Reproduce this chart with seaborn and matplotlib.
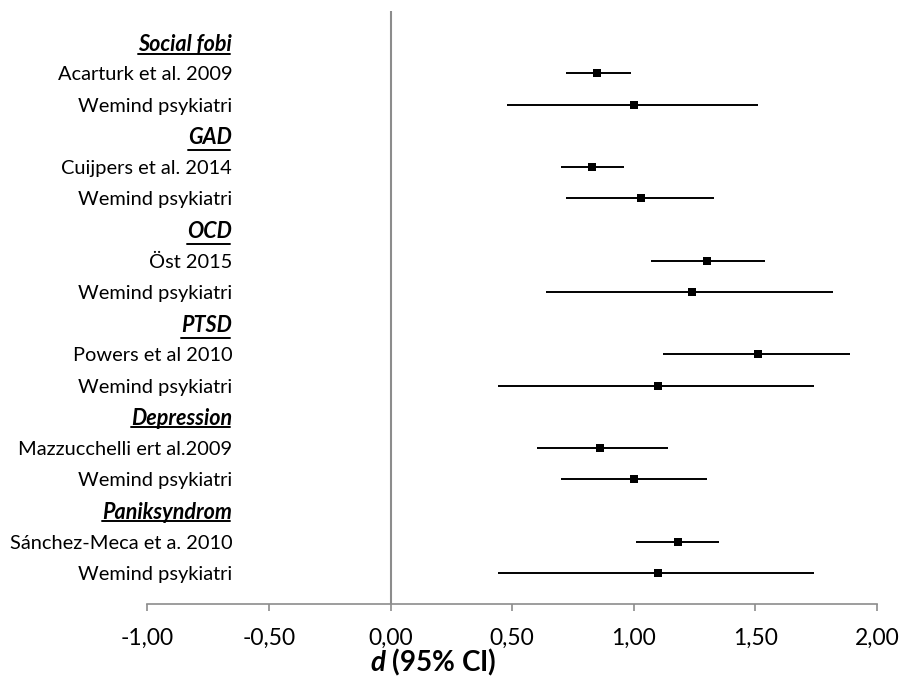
import numpy as np
import pandas as pd
import matplotlib
matplotlib.use("Agg")
import matplotlib.pyplot as plt
import seaborn as sns
from matplotlib.lines import Line2D

# Forest plot data
groups = ["Social fobi", "GAD", "OCD", "PTSD", "Depression", "Paniksyndrom"]
studies = ["Acarturk et al. 2009", "Cuijpers et al. 2014", "Öst 2015",
           "Powers et al 2010", "Mazzucchelli ert al.2009", "Sánchez-Meca et a. 2010"]
study_d = [0.85, 0.83, 1.30, 1.51, 0.86, 1.18]
study_lo = [0.72, 0.70, 1.07, 1.12, 0.60, 1.01]
study_hi = [0.99, 0.96, 1.54, 1.89, 1.14, 1.35]
wemind_label = "Wemind psykiatri"
wemind_d = [1.00, 1.03, 1.24, 1.10, 1.00, 1.10]
wemind_lo = [0.48, 0.72, 0.64, 0.44, 0.70, 0.44]
wemind_hi = [1.51, 1.33, 1.82, 1.74, 1.30, 1.74]
xticks = [-1.0, -0.5, 0.0, 0.5, 1.0, 1.5, 2.0]

rows = []
for i, g in enumerate(groups):
    rows.append(dict(label=g, d=np.nan, lo=np.nan, hi=np.nan, header=True))
    rows.append(dict(label=studies[i], d=study_d[i], lo=study_lo[i], hi=study_hi[i], header=False))
    rows.append(dict(label=wemind_label, d=wemind_d[i], lo=wemind_lo[i], hi=wemind_hi[i], header=False))
df = pd.DataFrame(rows)
df["pos"] = np.arange(1, len(df) + 1)

sns.set_style("white")
plt.rcParams["font.family"] = ["Lato", "DejaVu Sans"]
plt.rcParams["text.color"] = "black"
plt.rcParams["xtick.labelcolor"] = "black"
plt.rcParams["ytick.labelcolor"] = "black"
plt.rcParams["axes.labelcolor"] = "black"
plt.rcParams["mathtext.fontset"] = "custom"
plt.rcParams["mathtext.it"] = "Lato:italic:bold"

fig = plt.figure(figsize=(9.01, 6.78), dpi=100)
ax = fig.add_axes([147.5 / 901, 1 - 604 / 678, 729.5 / 901, 593 / 678])

data = df.dropna()
ax.hlines(data["pos"], data["lo"], data["hi"], color="black", lw=1.4, zorder=2)
sns.scatterplot(data=data, x="d", y="pos", marker="s", s=32, color="black",
                edgecolor="black", linewidth=0, ax=ax, zorder=3)
ax.axvline(0, color="#8c8c8c", lw=1.5, zorder=1)

ax.set_xlim(-1, 2)
ax.set_ylim(len(df) + 1, 0)
ax.set_xticks(xticks)
ax.set_xticklabels([f"{v:.2f}".replace(".", ",") for v in xticks], fontsize=16.5)
ax.set_yticks(df["pos"])
ax.set_yticklabels(df["label"], fontsize=14.4)
ax.tick_params(axis="y", length=0, pad=-61)
ax.tick_params(axis="x", length=5, width=1.2, color="#8c8c8c", direction="out", pad=12, bottom=True)
for lab, hdr in zip(ax.get_yticklabels(), df["header"]):
    if hdr:
        lab.set_fontweight("bold")
        lab.set_fontstyle("italic")
        lab.set_fontsize(15.5)

for s in ["top", "right", "left"]:
    ax.spines[s].set_visible(False)
ax.spines["bottom"].set_color("#8c8c8c")
ax.spines["bottom"].set_linewidth(1.2)

ax.set_xlabel(r"$\it{d}$ (95% CI)", fontsize=20, fontweight="bold")
ax.set_ylabel("")
ax.xaxis.set_label_coords(0.392, -0.072)
ax.xaxis.label.set_va("top")

# underline group headers
fig.canvas.draw()
renderer = fig.canvas.get_renderer()
inv = fig.transFigure.inverted()
for lab, hdr in zip(ax.get_yticklabels(), df["header"]):
    if not hdr:
        continue
    bb = lab.get_window_extent(renderer)
    w, h, desc = renderer.get_text_width_height_descent(lab.get_text(), lab.get_fontproperties(), ismath=False)
    y = bb.y0 + desc - 2
    (x0, y0), (x1, y1) = inv.transform([(bb.x0, y), (bb.x1 - 2, y)])
    fig.add_artist(Line2D([x0, x1], [y0, y1], color="black", lw=1.4))

fig.savefig("out.png", dpi=100)
